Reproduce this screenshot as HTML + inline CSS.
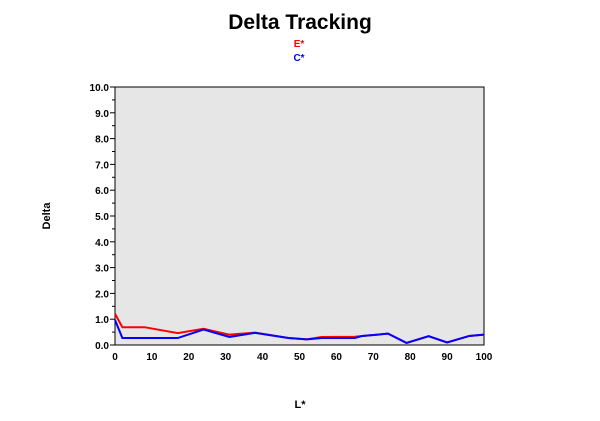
<!DOCTYPE html>
<html><head><meta charset="utf-8"><style>
html,body{margin:0;padding:0;background:#fff;}
svg{display:block;font-family:"Liberation Sans",Arial,sans-serif;}
</style></head><body>
<svg id="chart" width="600" height="421" viewBox="0 0 600 421">
<text x="300" y="29" text-anchor="middle" font-size="21" font-weight="bold" fill="#000">Delta Tracking</text>
<text x="299" y="47" text-anchor="middle" font-size="10" font-weight="bold" fill="#ff0000">E*</text>
<text x="299" y="61" text-anchor="middle" font-size="10" font-weight="bold" fill="#0000ff">C*</text>
<rect x="115" y="87" width="369" height="258" fill="#e6e6e6" stroke="#000" stroke-width="1"/>
<g id="yaxis"></g>
<g id="xaxis"></g>
<g id="series"></g>
<text transform="translate(50,216) rotate(-90)" text-anchor="middle" font-size="11" font-weight="bold">Delta</text>
<text x="300" y="408" text-anchor="middle" font-size="11" font-weight="bold">L*</text>
</svg>
<script>
const yTicks = [0,1,2,3,4,5,6,7,8,9,10];
const xTicks = [0,10,20,30,40,50,60,70,80,90,100];
const eL = [0,2,8,17,24,31,38,47,52,56,65,67,74,79,85,90,96,100];
const eV = [1.21,0.69,0.69,0.46,0.63,0.40,0.48,0.27,0.22,0.31,0.32,0.35,0.44,0.08,0.34,0.10,0.35,0.40];
const cL = [0,2,8,17,24,31,38,47,52,56,65,67,74,79,85,90,96,100];
const cV = [0.97,0.27,0.27,0.27,0.60,0.31,0.47,0.27,0.22,0.27,0.27,0.35,0.44,0.08,0.34,0.10,0.35,0.40];
const NS='http://www.w3.org/2000/svg';
const X0=115,X1=484,Y0=345,Y1=87;
const xs=v=>X0+(v/100)*(X1-X0);
const ys=v=>Y0-(v/10)*(Y0-Y1);
function mk(t,a){const e=document.createElementNS(NS,t);for(const k in a)e.setAttribute(k,a[k]);return e;}
const ya=document.getElementById('yaxis');
yTicks.forEach(v=>{
  const l=mk('line',{x1:X0-5,x2:X0,y1:ys(v),y2:ys(v),stroke:'#000'});
  
  
  ya.appendChild(l);
  if(v<10){const m=mk('line',{x1:X0-3,x2:X0,y1:ys(v+0.5),y2:ys(v+0.5),stroke:'#000'});
  
  
  ya.appendChild(m);}
  const t=mk('text',{x:X0-6,y:ys(v)+4,'text-anchor':'end','font-size':'10','font-weight':'bold'});
  
  
  t.textContent=v.toFixed(1);ya.appendChild(t);
});
const xa=document.getElementById('xaxis');
xTicks.forEach(v=>{
  const t=mk('text',{x:xs(v),y:Y0+15,'text-anchor':'middle','font-size':'10','font-weight':'bold'});
  
  
  t.textContent=v;xa.appendChild(t);
});
const sg=document.getElementById('series');
function line(L,V,col,name){
  const p=mk('polyline',{points:L.map((l,i)=>xs(l)+','+ys(V[i])).join(' '),fill:'none',stroke:col,'stroke-width':'2'});
  
  
  sg.appendChild(p);
}
line(eL,eV,'#ff0000','series-e-line');
line(cL,cV,'#0000ff','series-c-line');
</script>
</body></html>
